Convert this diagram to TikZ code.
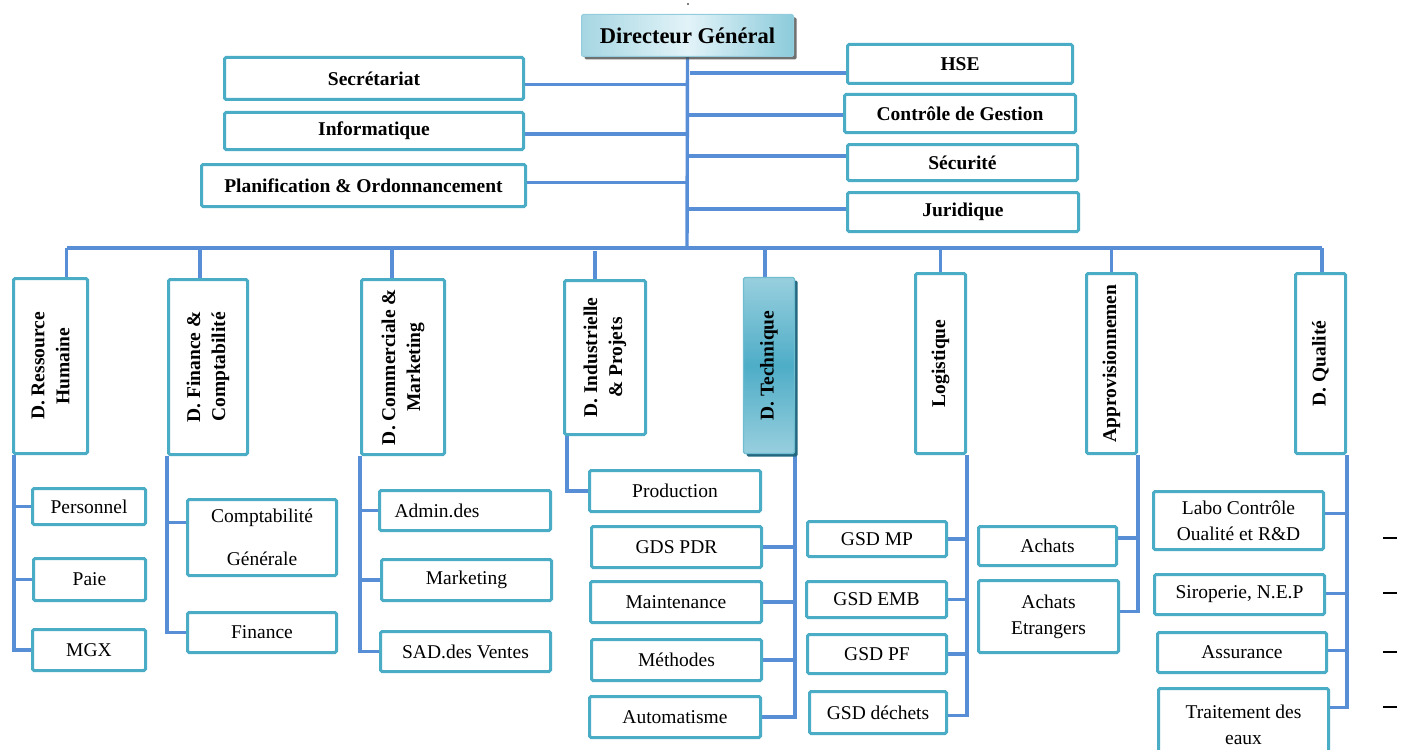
\documentclass[tikz,border=0pt]{standalone}
\usepackage{fontspec}
\setmainfont{Liberation Serif}
\usetikzlibrary{shadows, backgrounds}

\definecolor{boxline}{RGB}{75,172,198}
\definecolor{linkblue}{RGB}{88,142,214}
\definecolor{dgleft}{RGB}{166,214,226}
\definecolor{dgmid}{RGB}{226,243,248}
\definecolor{dgright}{RGB}{140,203,219}
\definecolor{techlight}{RGB}{152,207,222}
\definecolor{techdark}{RGB}{78,173,199}
\definecolor{techshadow}{RGB}{36,104,128}

\begin{document}
\begin{tikzpicture}[
        x=1pt, y=-1pt,
        unit/.style = {
            draw=boxline, line width=3pt, rounded corners=1.5pt,
            fill=white, inner sep=2pt, align=center,
            font=\bfseries\fontsize{19.5}{25}\selectfont
        },
        dept/.style = {unit, rotate=90},
        sub/.style = {unit, font=\fontsize{19.5}{26}\selectfont},
        link/.style = {draw=linkblue, line width=3.4pt}
    ]
    \useasboundingbox (0,0) rectangle (1404,749);

    % direction
    \node[unit, minimum width=212pt, minimum height=42pt,
        font=\bfseries\fontsize{22.5}{27}\selectfont,
        draw=boxline!60, line width=1pt,
        left color=dgleft, right color=dgright, middle color=dgmid,
        drop shadow={shadow xshift=3pt, shadow yshift=-3pt, fill=black!70, opacity=.8}]
        (dg) at (687.5,35.5) {Directeur Général};
    \node[unit, minimum width=299pt, minimum height=42pt] (secr) at (374,78.5) {Secrétariat};
    \node[unit, minimum width=299pt, minimum height=37pt] (info) at (374,131) {Informatique};
    \node[unit, minimum width=324pt, minimum height=42pt] (plan) at (363.5,185.5) {Planification \& Ordonnancement};
    \node[unit, minimum width=225pt, minimum height=39pt] (hse) at (960,64) {HSE};
    \node[unit, minimum width=231pt, minimum height=38pt] (cdg) at (960,113.5) {Contrôle de Gestion};
    \node[unit, minimum width=230pt, minimum height=36pt] (secu) at (962.5,162.5) {Sécurité};
    \node[unit, minimum width=231pt, minimum height=39pt] (jur) at (963,212) {Juridique};

    % directions
    \node[dept, minimum width=175pt, minimum height=74pt] (drh) at (50.5,366) {D. Ressource\\Humaine};
    \node[dept, minimum width=175pt, minimum height=79pt] (dfc) at (208,367) {D. Finance \&\\Comptabilité};
    \node[dept, minimum width=175pt, minimum height=83pt] (dcm) at (403,367) {D. Commerciale \&\\Marketing};
    \node[dept, minimum width=154pt, minimum height=81pt] (dip) at (605,357.5) {D. Industrielle\\\& Projets};
    \node[unit, minimum width=51pt, minimum height=176pt,
        draw=boxline!80, line width=1.2pt,
        top color=techlight, bottom color=techlight, middle color=techdark,
        drop shadow={shadow xshift=3pt, shadow yshift=-3pt, fill=techshadow, opacity=1}]
        (dtech) at (769,365.5) {\rotatebox{90}{D. Technique}};
    \node[dept, minimum width=180pt, minimum height=50pt] (dlog) at (940.5,363.5) {Logistique};
    \node[dept, minimum width=180pt, minimum height=50pt] (dappro) at (1111.5,363.5) {Approvisionnemen};
    \node[dept, minimum width=180pt, minimum height=50pt] (dqual) at (1320.5,363.5) {D. Qualité};

    % services
    \node[sub, minimum width=113pt, minimum height=36pt] (pers) at (89,506.5) {Personnel};
    \node[sub, minimum width=112pt, minimum height=42pt] (paie) at (89.5,579.5) {Paie};
    \node[sub, minimum width=113pt, minimum height=41pt] (mgx) at (89,650) {MGX};
    \node[sub, minimum width=149pt, minimum height=76pt] (cptg) at (262,537.5) {Comptabilité\\[17pt]Générale};
    \node[sub, minimum width=149pt, minimum height=40pt] (fina) at (262,632.5) {Finance};
    \node[sub, minimum width=171pt, minimum height=40pt, text width=141pt, align=left] (admin) at (465,510.5) {Admin.des};
    \node[sub, minimum width=170pt, minimum height=41pt] (mkt) at (466.5,580) {Marketing};
    \node[sub, minimum width=170pt, minimum height=40pt] (sad) at (465.5,651.5) {SAD.des Ventes};
    \node[sub, minimum width=171pt, minimum height=41pt] (prod) at (675,491) {Production};
    \node[sub, minimum width=170pt, minimum height=41pt] (gds) at (676.5,547) {GDS PDR};
    \node[sub, minimum width=171pt, minimum height=41pt] (maint) at (676,602) {Maintenance};
    \node[sub, minimum width=170pt, minimum height=41pt] (meth) at (676.5,660) {Méthodes};
    \node[sub, minimum width=171pt, minimum height=41pt] (auto) at (675,717) {Automatisme};
    \node[sub, minimum width=139pt, minimum height=35pt] (gmp) at (877,539) {GSD MP};
    \node[sub, minimum width=140pt, minimum height=36pt] (gemb) at (876.5,599.5) {GSD EMB};
    \node[sub, minimum width=139pt, minimum height=39pt] (gpf) at (877,654) {GSD PF};
    \node[sub, minimum width=137pt, minimum height=42pt] (gdech) at (878,712.5) {GSD déchets};
    \node[sub, minimum width=138pt, minimum height=39pt] (ach) at (1047.5,546) {Achats};
    \node[sub, minimum width=140pt, minimum height=72pt] (achE) at (1048.5,616.5) {Achats\\Etrangers};
    \node[sub, minimum width=170pt, minimum height=58pt] (labo) at (1238.5,520.5) {Labo Contrôle\\Oualité et R\&D};
    \node[sub, minimum width=170pt, minimum height=40pt] (sirop) at (1239.5,594.5) {Siroperie, N.E.P};
    \node[sub, minimum width=169pt, minimum height=40pt] (assur) at (1242,652.5) {Assurance};
    \node[sub, minimum width=170pt, minimum height=72pt] (trait) at (1243.5,724.5) {Traitement des\\eaux};

    \begin{pgfonlayer}{background}
        % staff links
        \coordinate (trunk) at (687,248);
        \draw[link] (dg.south) -- (trunk);
        \foreach \u/\s in {secr/-6, info/-3, plan/3}
            \draw[link] ([yshift=\s pt]\u.east) -- ([yshift=\s pt]\u.east -| trunk);
        \foreach \u/\s in {cdg/-1.5, secu/6.5, jur/3}
            \draw[link] ([yshift=\s pt]\u.west) -- ([yshift=\s pt]\u.west -| trunk);
        \draw[link] ([yshift=-9pt]hse.west) -- ([yshift=-9pt, xshift=3pt]hse.west -| trunk);

        % bus and drops
        \draw[link] ([xshift=16pt]drh.east |- trunk) -- ([xshift=1.5pt]dqual.east |- trunk);
        \foreach \d/\s in {drh/16, dfc/-8, dcm/-11, dlog/0, dappro/0, dqual/1.5}
            \draw[link] ([xshift=\s pt]\d.east) -- ([xshift=\s pt]\d.east |- trunk);
        \draw[link] ([xshift=-4pt]dtech.north) -- ([xshift=-4pt]dtech.north |- trunk);
        \draw[link] ([xshift=-10pt]dip.east) -- ([xshift=-10pt, yshift=-3pt]dip.east |- trunk);

        % left spines
        \draw[link] ([xshift=2pt]drh.north west) |- (mgx.west);
        \foreach \c in {pers, paie}
            \draw[link] (\c.west) -- (\c.west -| drh.north west);
        \draw[link] (dfc.north west) |- (fina.west);
        \draw[link] ([yshift=15pt]cptg.west) -- ([yshift=15pt]cptg.west -| dfc.north west);
        \draw[link] (dcm.north west) |- (sad.west);
        \foreach \c in {admin, mkt}
            \draw[link] (\c.west) -- (\c.west -| dcm.north west);
        \draw[link] ([xshift=4pt]dip.north west) |- (prod.west);

        % right spines
        \draw[link] (dtech.south east) |- (auto.east);
        \foreach \c in {gds, maint, meth}
            \draw[link] (\c.east) -- (\c.east -| dtech.south east);
        \draw[link] (dlog.south west) |- ([yshift=-3pt]gdech.east);
        \foreach \c in {gmp, gemb, gpf}
            \draw[link] (\c.east) -- (\c.east -| dlog.south west);
        \draw[link] (dappro.south west) |- ([yshift=5pt]achE.east);
        \draw[link] ([yshift=8pt]ach.east) -- ([yshift=8pt]ach.east -| dappro.south west);
        \draw[link] (dqual.south west) |- ([yshift=17pt]trait.east);
        \foreach \c/\s in {labo/7, sirop/1, assur/2}
            \draw[link] ([yshift=\s pt]\c.east) -- ([yshift=\s pt]\c.east -| dqual.south west);
    \end{pgfonlayer}

    % marks at the right edge
    \foreach \y in {538, 593, 652, 707}
        \draw[line width=1.2pt] (1383,\y) -- (1397,\y);
    \fill (688,4) circle (0.9pt);
\end{tikzpicture}
\end{document}
